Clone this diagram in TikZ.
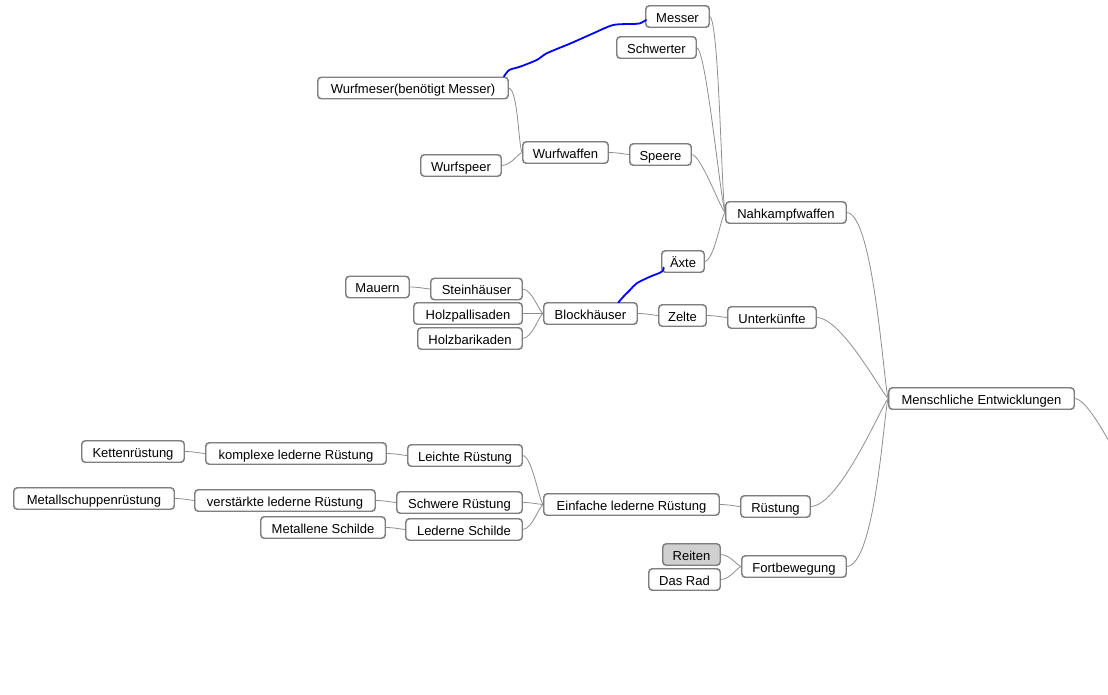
\documentclass[tikz,border=0pt]{standalone}
\usepackage{fontspec}
\setmainfont{Liberation Sans}
\usetikzlibrary{calc}
\definecolor{boxline}{HTML}{7F7F7F}
\definecolor{edgecol}{HTML}{8E8E8E}
\definecolor{reitfill}{HTML}{D0D0D0}
\begin{document}
\begin{tikzpicture}[x=1pt,y=-1pt,
  box/.style={draw=boxline, fill=white, line width=0.9pt, rounded corners=3.5pt,
    minimum height=21pt, inner sep=0pt, text height=12.3pt, text depth=0.5pt,
    font=\fontsize{13}{15}\selectfont, text=black},
  lnk/.style={draw=edgecol, line width=0.8pt},
  conn/.style={out=0,in=180,out distance=#1,in distance=4pt},
  conn/.default=10pt,
  alink/.style={draw=blue, line width=1.8pt, line cap=round, line join=round}]
\useasboundingbox (0,0) rectangle (1108,694);

% nodes
\node[box,minimum width=63] (messer) at (677.5,16.5) {Messer};
\node[box,minimum width=79] (schwert) at (656.5,47.5) {Schwerter};
\node[box,minimum width=190] (wurfm) at (413,88) {Wurfmeser(benötigt Messer)};
\node[box,minimum width=80] (wurfsp) at (461,165.5) {Wurfspeer};
\node[box,minimum width=85] (wurfw) at (565.5,152.5) {Wurfwaffen};
\node[box,minimum width=61] (speere) at (660.5,154.5) {Speere};
\node[box,minimum width=120] (nahk) at (786,212.5) {Nahkampfwaffen};
\node[box,minimum width=42] (axte) at (683,261.5) {Äxte};
\node[box,minimum width=63] (mauern) at (377.5,287) {Mauern};
\node[box,minimum width=91] (stein) at (476.5,289) {Steinhäuser};
\node[box,minimum width=108] (holzp) at (468,313.5) {Holzpallisaden};
\node[box,minimum width=104] (holzb) at (470,338.5) {Holzbarikaden};
\node[box,minimum width=93] (block) at (590.5,313.5) {Blockhäuser};
\node[box,minimum width=47] (zelte) at (682.5,315.5) {Zelte};
\node[box,minimum width=88] (unterk) at (772,317.5) {Unterkünfte};
\node[box,minimum width=185] (mensch) at (981.5,398.5) {Menschliche Entwicklungen};
\node[box,minimum width=102] (kette) at (133,451.5) {Kettenrüstung};
\node[box,minimum width=180] (komplex) at (296,453.5) {komplexe lederne Rüstung};
\node[box,minimum width=114] (leicht) at (465,455.5) {Leichte Rüstung};
\node[box,minimum width=160] (metschup) at (94,498.5) {Metallschuppenrüstung};
\node[box,minimum width=180] (verst) at (285,500.5) {verstärkte lederne Rüstung};
\node[box,minimum width=125] (schwer) at (459.5,502.5) {Schwere Rüstung};
\node[box,minimum width=124] (metschild) at (323,527.5) {Metallene Schilde};
\node[box,minimum width=116] (ledschild) at (464,529.5) {Lederne Schilde};
\node[box,minimum width=175] (einf) at (631.5,504.5) {Einfache lederne Rüstung};
\node[box,minimum width=69] (ruest) at (775.5,506.5) {Rüstung};
\node[box,minimum width=57,fill=reitfill] (reiten) at (691.5,554.5) {Reiten};
\node[box,minimum width=71] (rad) at (684.5,579.5) {Das Rad};
\node[box,minimum width=104] (fortb) at (794,566.5) {Fortbewegung};
\coordinate (off) at (1115,452);

% connectors
\draw[lnk] (messer.east) to[conn] (nahk.west);
\draw[lnk] (schwert.east) to[conn] (nahk.west);
\draw[lnk] (speere.east) to[conn] (nahk.west);
\draw[lnk] (axte.east) to[conn] (nahk.west);
\draw[lnk] (wurfw.east) to[conn] (speere.west);
\draw[lnk] (wurfm.east) to[conn] (wurfw.west);
\draw[lnk] (wurfsp.east) to[conn] (wurfw.west);
\draw[lnk] (nahk.east) to[conn=28pt] (mensch.west);
\draw[lnk] (mauern.east) to[conn] (stein.west);
\draw[lnk] (stein.east) to[conn] (block.west);
\draw[lnk] (holzp.east) to[conn] (block.west);
\draw[lnk] (holzb.east) to[conn] (block.west);
\draw[lnk] (block.east) to[conn] (zelte.west);
\draw[lnk] (zelte.east) to[conn] (unterk.west);
\draw[lnk] (unterk.east) to[conn=26pt] (mensch.west);
\draw[lnk] (kette.east) to[conn] (komplex.west);
\draw[lnk] (komplex.east) to[conn] (leicht.west);
\draw[lnk] (leicht.east) to[conn] (einf.west);
\draw[lnk] (metschup.east) to[conn] (verst.west);
\draw[lnk] (verst.east) to[conn] (schwer.west);
\draw[lnk] (schwer.east) to[conn] (einf.west);
\draw[lnk] (metschild.east) to[conn] (ledschild.west);
\draw[lnk] (ledschild.east) to[conn] (einf.west);
\draw[lnk] (einf.east) to[conn] (ruest.west);
\draw[lnk] (ruest.east) to[conn=30pt] (mensch.west);
\draw[lnk] (reiten.east) to[conn] (fortb.west);
\draw[lnk] (rad.east) to[conn] (fortb.west);
\draw[lnk] (fortb.east) to[conn=30pt] (mensch.west);
\draw[lnk] (mensch.east) .. controls +(12,0) and +(-8,-14) .. (off);

% redraw box outlines over connector ends
\foreach \n in {messer,schwert,wurfm,wurfsp,wurfw,speere,nahk,axte,mauern,stein,holzp,holzb,block,zelte,unterk,mensch,kette,komplex,leicht,metschup,verst,schwer,metschild,ledschild,einf,ruest,reiten,rad,fortb}
  \draw[draw=boxline, line width=0.9pt, rounded corners=3.5pt] (\n.south west) rectangle (\n.north east);

% blue arrow links
\draw[alink] plot[smooth, tension=0.5] coordinates {
  ($(wurfm.north east)+(-4.5,-0.5)$) (509.3,70) (520,66.7) (536.7,60) (546.7,53.3)
  (566.7,45) (576.7,40.7) (593.3,33.3) (613.3,25) (633.3,24) (640,23.3)
  ($(messer.west)+(0.5,3.5)$)};
\draw[alink] plot[smooth, tension=0.5] coordinates {
  ($(block.north)+(27.8,0)$) (623.3,296.7) (630,290) (636.7,283.3) (650,276.7)
  (660,272.7) (663.3,270) ($(axte.south west)+(2,-5)$)};
\end{tikzpicture}
\end{document}
